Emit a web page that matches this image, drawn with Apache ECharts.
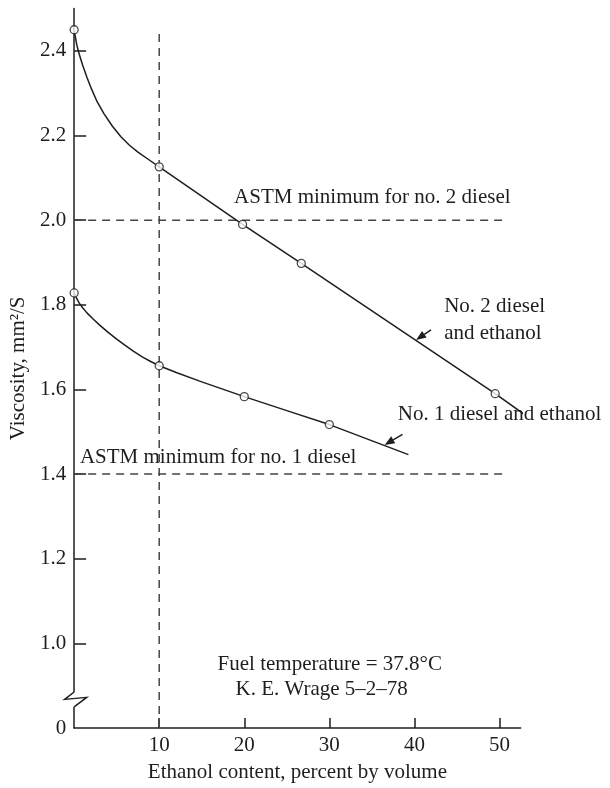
<!DOCTYPE html>
<html><head><meta charset="utf-8">
<script src="https://cdn.jsdelivr.net/npm/echarts@6/dist/echarts.min.js"></script>
<style>html,body{margin:0;padding:0;background:#fff}#c{width:610px;height:788px}</style>
</head><body><div id="c"></div>
<script>
// ---- data ----
const xTickValues = [10, 20, 30, 40, 50];
const yTickValues = [1.0, 1.2, 1.4, 1.6, 1.8, 2.0, 2.2, 2.4];
const yLabelValues = [0.8, 1.0, 1.2, 1.4, 1.6, 1.8, 2.0, 2.2, 2.4];
// No. 2 diesel and ethanol: curve
const no2Curve = [[0,2.450],[0.3,2.415],[0.6,2.392],[1.0,2.366],[1.5,2.338],[2.0,2.312],[2.7,2.280],[3.5,2.252],[4.5,2.222],[5.5,2.197],[6.5,2.177],[7.5,2.161],[8.7,2.144],[10,2.126],[19.8,1.990],[26.7,1.898],[49.5,1.590],[53.2,1.537]];
const no2Points = [[0,2.45],[10,2.126],[19.8,1.99],[26.7,1.898],[49.5,1.59]];
// No. 1 diesel and ethanol
const no1Curve = [[0,1.828],[0.3,1.815],[0.6,1.804],[1.0,1.793],[1.5,1.781],[2.2,1.767],[3.0,1.752],[4.0,1.735],[5.0,1.719],[6.0,1.704],[7.0,1.690],[8.0,1.677],[9.0,1.666],[10,1.656],[12,1.640],[15,1.618],[20,1.583],[25,1.550],[30,1.517],[39.3,1.446]];
const no1Points = [[0,1.828],[10,1.656],[20,1.583],[30,1.517]];
const astmNo2 = [[0,2.0],[51,2.0]];
const astmNo1 = [[0,1.4],[51,1.4]];
const tenPercent = [[10,0.8],[10,2.45]];

const FONT = 'Liberation Serif';
const INK = '#1e1e1e';
const chart = echarts.init(document.getElementById('c'), null, {renderer:'canvas'});

const dashed = (data) => ({
  type:'line', data, symbol:'none', silent:true, z:1,
  lineStyle:{color:'#444', width:1.5, type:[8,6]}
});
const curve = (data) => ({
  type:'line', data, symbol:'none', smooth:false, clip:false, z:3,
  lineStyle:{color:INK, width:1.5, join:'round'}
});
const pts = (data) => ({
  type:'scatter', data, symbol:'circle', symbolSize:8, clip:false, z:5,
  itemStyle:{color:'#fff', borderColor:INK, borderWidth:1.3}
});

chart.setOption({
  animation:false,
  backgroundColor:'#fff',
  grid:{left:70, top:8.6, right:89.3, bottom:58.6},
  xAxis:{
    type:'value', min:0, max:52.5, interval:10,
    axisLine:{show:true, lineStyle:{color:INK, width:1.5}},
    axisTick:{show:true, inside:true, length:10, customValues:xTickValues, lineStyle:{color:INK, width:1.5}},
    axisLabel:{customValues:xTickValues, margin:7, fontFamily:FONT, fontSize:21, color:INK},
    splitLine:{show:false},
    name:'Ethanol content, percent by volume', nameLocation:'middle', nameGap:34,
    nameTextStyle:{fontFamily:FONT, fontSize:21, color:INK}
  },
  yAxis:{
    type:'value', min:0.8, max:2.5, interval:0.2,
    axisLine:{show:true, lineStyle:{color:INK, width:1.5}},
    axisTick:{show:true, inside:true, length:12, customValues:yTickValues, lineStyle:{color:INK, width:1.5}},
    axisLabel:{customValues:yLabelValues, margin:8, fontFamily:FONT, fontSize:21, color:INK,
      formatter:(v)=> Math.abs(v-0.8)<1e-6 ? '0' : v.toFixed(1)},
    splitLine:{show:false},
    name:'Viscosity, mm²/S', nameLocation:'middle', nameGap:40, nameRotate:90,
    nameTextStyle:{fontFamily:FONT, fontSize:21, color:INK}
  },
  series:[
    dashed(tenPercent), dashed(astmNo2), dashed(astmNo1),
    curve(no2Curve), curve(no1Curve),
    pts(no2Points), pts(no1Points)
  ]
});

function px(x, y){ return chart.convertToPixel({gridIndex:0}, [x, y]); }

function arrow(tail, tip){
  const dx = tip[0]-tail[0], dy = tip[1]-tail[1];
  const L = Math.hypot(dx, dy), ux = dx/L, uy = dy/L;
  const hl = 10, hw = 4;
  const bx = tip[0]-ux*hl, by = tip[1]-uy*hl;
  return [
    {type:'line', shape:{x1:tail[0], y1:tail[1], x2:bx, y2:by}, style:{stroke:INK, lineWidth:1.5}, z:10},
    {type:'polygon', shape:{points:[tip, [bx-uy*hw, by+ux*hw], [bx+uy*hw, by-ux*hw]]}, style:{fill:INK}, z:10}
  ];
}
function label(text, x, y, align){
  const p = px(x, y);
  return {type:'text', x:p[0], y:p[1], z:10,
    style:{text, fontFamily:FONT, fontSize:21, fill:INK, align:align||'left', verticalAlign:'middle'}};
}

const g = [];
// axis break on the y axis
const ax = px(0, 0.87);
const yTop = px(0, 0.885)[1], yBot = px(0, 0.85)[1];
g.push({type:'rect', shape:{x:ax[0]-3, y:yTop, width:6, height:yBot-yTop}, style:{fill:'#fff'}, z:20});
g.push({type:'polyline', shape:{points:[[ax[0], yTop],[ax[0]-9.5, ax[1]+1],[ax[0]+12.5, ax[1]-1],[ax[0], yBot]]},
  style:{stroke:INK, lineWidth:1.5, fill:null}, z:21});

g.push(label('ASTM minimum for no. 2 diesel', 18.8, 2.053));
g.push(label('ASTM minimum for no. 1 diesel', 0.68, 1.439));
g.push(label('No. 2 diesel', 43.5, 1.795));
g.push(label('and ethanol', 43.5, 1.733));
g.push(label('No. 1 diesel and ethanol', 38.05, 1.541));
g.push(label('Fuel temperature = 37.8°C', 30.05, 0.951, 'center'));
g.push(label('K. E. Wrage 5–2–78', 29.1, 0.892, 'center'));

// pointer arrows to the curves
arrow(px(41.95, 1.741), px(40.2, 1.717)).forEach(e=>g.push(e));
arrow(px(38.6, 1.494), px(36.5, 1.469)).forEach(e=>g.push(e));

chart.setOption({graphic:g});
</script>
</body></html>
